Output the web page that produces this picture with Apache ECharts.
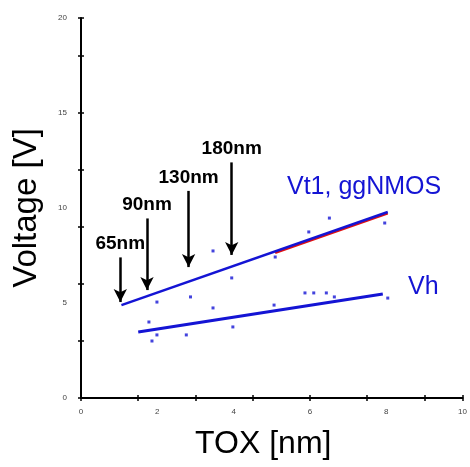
<!DOCTYPE html>
<html>
<head>
<meta charset="utf-8">
<script src="https://cdn.jsdelivr.net/npm/echarts@6/dist/echarts.min.js"></script>
<style>
html, body { margin: 0; background: #fff; }
#chart { width: 470px; height: 467px; }
</style>
</head>
<body>
<div id="chart"></div>
<script>
// fitted lines, [tox, volts]
const vt1Fit = [[1.06, 4.89], [8.04, 9.79]]
const vt1FitRed = [[5.09, 7.63], [8.04, 9.71]]
const vhFit = [[1.5, 3.47], [7.91, 5.47]]

// measured points scattered around the fits
const vt1Points = [[1.99, 5.05], [2.87, 5.32], [3.46, 7.74], [3.95, 6.32], [5.09, 7.42], [5.97, 8.74], [6.51, 9.47], [7.96, 9.21]]
const vhPoints = [[1.78, 4.0], [1.86, 3.0], [1.99, 3.32], [2.76, 3.32], [3.46, 4.74], [3.98, 3.74], [5.06, 4.89], [5.87, 5.53], [6.1, 5.53], [6.43, 5.53], [6.64, 5.32], [8.04, 5.26]]

// technology node arrows
const nodeNames = ["65nm", "90nm", "130nm", "180nm"]
const nodeTox = [1.03, 1.73, 2.82, 3.95]
const nodeTop = [7.4, 9.45, 10.9, 12.4]
const nodeTip = [5.05, 5.68, 6.89, 7.53]

const seriesNames = ["Vt1, ggNMOS", "Vh"]
const seriesLabelPos = [[7.42, 11.1], [8.97, 5.84]]

const blue = "#1414d4"

const chart = echarts.init(document.getElementById("chart"))

const tickOnly = (pos, interval) => ({
	type: "value",
	position: pos,
	min: 0,
	max: pos === "top" || pos === "bottom" ? 10 : 20,
	interval: interval,
	axisLine: { show: false },
	axisTick: { show: true, inside: true, length: 3, lineStyle: { color: "#000", width: 1.5 } },
	axisLabel: { show: false },
	splitLine: { show: false },
})

const option = {
	backgroundColor: "#fff",
	animation: false,
	grid: { left: 81, right: 2, top: 18, bottom: 69 },
	xAxis: [
		{
			type: "value",
			position: "bottom",
			min: 0,
			max: 10,
			interval: 2,
			axisLine: { lineStyle: { color: "#000", width: 2 } },
			axisTick: { show: false },
			axisLabel: { fontSize: 8, color: "#444", margin: 10 },
			splitLine: { show: false },
			name: "TOX [nm]",
			nameLocation: "middle",
			nameGap: 30,
			nameTextStyle: { fontSize: 32, color: "#000", fontFamily: "Liberation Sans", padding: [0, 17, 0, 0] },
		},
		tickOnly("bottom", 1.5),
		tickOnly("top", 1.5),
	],
	yAxis: [
		{
			type: "value",
			position: "left",
			min: 0,
			max: 20,
			interval: 5,
			axisLine: { lineStyle: { color: "#000", width: 2 } },
			axisTick: { show: false },
			axisLabel: { fontSize: 8, color: "#444", margin: 14 },
			splitLine: { show: false },
			name: "Voltage [V]",
			nameLocation: "middle",
			nameGap: 38,
			nameTextStyle: { fontSize: 33, color: "#000", fontFamily: "Liberation Sans" },
		},
		tickOnly("left", 3),
		tickOnly("right", 3),
	],
	series: [
		{
			name: "Vt1 fit (red)",
			type: "line",
			data: vt1FitRed,
			showSymbol: false,
			lineStyle: { color: "#e01010", width: 2 },
			silent: true,
		},
		{
			name: seriesNames[0],
			type: "line",
			data: vt1Fit,
			showSymbol: false,
			lineStyle: { color: blue, width: 2.5 },
			silent: true,
			markLine: {
				silent: true,
				symbol: ["none", "arrow"],
				symbolSize: [10, 13],
				lineStyle: { color: "#000", width: 2.5, type: "solid" },
				itemStyle: { color: "#000" },
				label: {
					show: true,
					position: "start",
					formatter: "{b}",
					color: "#000",
					fontWeight: "bold",
					fontSize: 19,
					fontFamily: "Liberation Sans",
					distance: 4,
				},
				data: nodeNames.map((n, i) => [
					{ name: n, coord: [nodeTox[i], nodeTop[i]] },
					{ coord: [nodeTox[i], nodeTip[i]] },
				]),
			},
			markPoint: {
				silent: true,
				symbol: "rect",
				symbolSize: 1,
				itemStyle: { color: "transparent" },
				label: { show: true, position: "inside", formatter: "{b}", color: blue, fontSize: 25, fontFamily: "Liberation Sans" },
				data: seriesNames.map((n, i) => ({ name: n, coord: seriesLabelPos[i] })),
			},
		},
		{
			name: seriesNames[1],
			type: "line",
			data: vhFit,
			showSymbol: false,
			lineStyle: { color: blue, width: 3 },
			silent: true,
		},
		{
			name: "Vt1 data",
			type: "scatter",
			data: vt1Points,
			symbol: "rect",
			symbolSize: 3,
			itemStyle: { color: blue },
		},
		{
			name: "Vh data",
			type: "scatter",
			data: vhPoints,
			symbol: "rect",
			symbolSize: 3,
			itemStyle: { color: blue },
		},
	],
}

chart.setOption(option)
</script>
</body>
</html>
